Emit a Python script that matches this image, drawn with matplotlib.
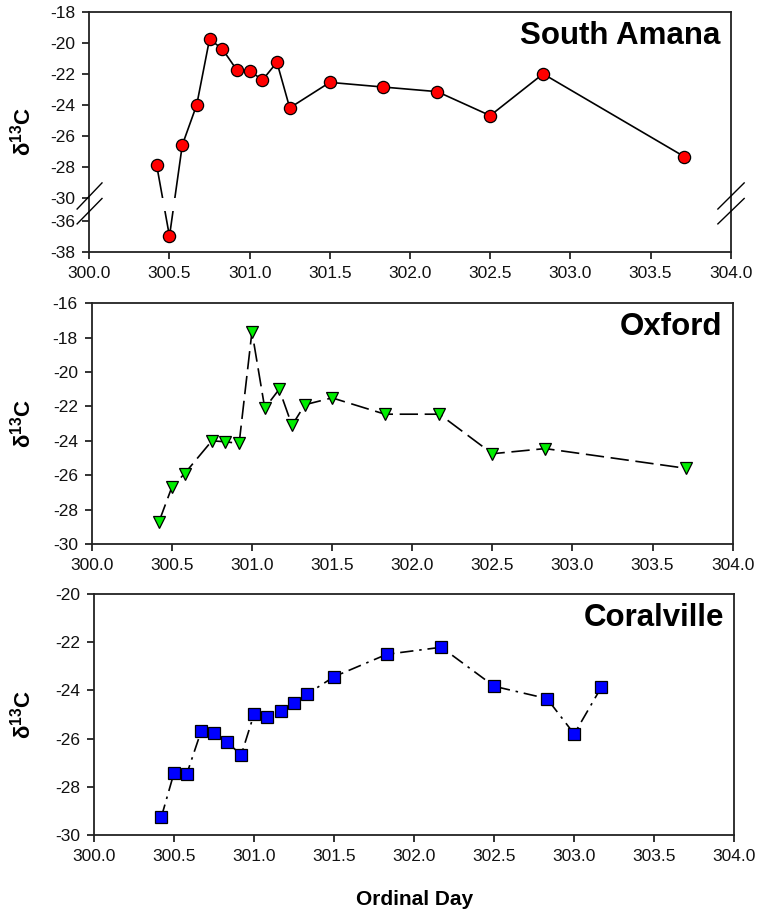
import numpy as np
import matplotlib
matplotlib.use('Agg')
import matplotlib.pyplot as plt
from matplotlib.ticker import FixedLocator, FormatStrFormatter

plt.rcParams['font.family'] = ['Liberation Sans', 'DejaVu Sans']
plt.rcParams['mathtext.fontset'] = 'custom'
plt.rcParams['mathtext.rm'] = 'Liberation Sans'
plt.rcParams['mathtext.bf'] = 'Liberation Sans:bold'
plt.rcParams['mathtext.it'] = 'Liberation Sans:italic'

# ---------------- data ----------------
sa_day = [300.42, 300.50, 300.58, 300.67, 300.75, 300.83, 300.92, 301.00, 301.08,
          301.17, 301.25, 301.50, 301.83, 302.17, 302.50, 302.83, 303.71]
sa_d13c = [-27.9, -37.0, -26.6, -24.0, -19.75, -20.4, -21.75, -21.8, -22.4,
           -21.25, -24.2, -22.55, -22.85, -23.15, -24.7, -22.0, -27.35]

ox_day = [300.42, 300.50, 300.58, 300.75, 300.83, 300.92, 301.00, 301.08, 301.17,
          301.25, 301.33, 301.50, 301.83, 302.17, 302.50, 302.83, 303.71]
ox_d13c = [-28.7, -26.7, -25.9, -24.0, -24.05, -24.15, -17.65, -22.1, -21.0,
           -23.1, -21.9, -21.5, -22.45, -22.45, -24.75, -24.45, -25.6]

co_day = [300.42, 300.50, 300.58, 300.67, 300.75, 300.83, 300.92, 301.00, 301.08,
          301.17, 301.25, 301.33, 301.50, 301.83, 302.17, 302.50, 302.83, 303.00, 303.17]
co_d13c = [-29.27, -27.42, -27.46, -25.68, -25.76, -26.15, -26.67, -24.98, -25.1,
           -24.84, -24.52, -24.16, -23.43, -22.5, -22.21, -23.83, -24.34, -25.81, -23.86]

sa_yticks = [-38, -36, -30, -28, -26, -24, -22, -20, -18]
ox_yticks = [-30, -28, -26, -24, -22, -20, -18, -16]
co_yticks = [-30, -28, -26, -24, -22, -20]
xticks = [300.0, 300.5, 301.0, 301.5, 302.0, 302.5, 303.0, 303.5, 304.0]

titles = ['South Amana', 'Oxford', 'Coralville']

# ---------------- figure ----------------
W, H = 765, 913
fig = plt.figure(figsize=(W / 100, H / 100), dpi=100)


def add_axes(l, r, t, b):
    return fig.add_axes([l / W, 1 - b / H, (r - l) / W, (b - t) / H])


ax1 = add_axes(89.3, 730.7, 12, 251.7)
ax2 = add_axes(91.7, 732.7, 303.3, 544)
ax3 = add_axes(94, 734.3, 594, 835)


# broken-axis scale for the top panel
def fwd(y):
    y = np.asarray(y, dtype=float)
    return np.where(y >= -30, y,
                    np.where(y >= -36, -30 + (y + 30) * 0.25, -31.5 + (y + 36)))


def inv(v):
    v = np.asarray(v, dtype=float)
    return np.where(v >= -30, v,
                    np.where(v >= -31.5, -30 + (v + 30) / 0.25, v - 4.5))


ax1.set_yscale('function', functions=(fwd, inv))


def style(ax, yticks, ylim, title):
    ax.set_xlim(300, 304)
    ax.set_ylim(*ylim)
    ax.xaxis.set_major_locator(FixedLocator(xticks))
    ax.xaxis.set_major_formatter(FormatStrFormatter('%.1f'))
    ax.yaxis.set_major_locator(FixedLocator(yticks))
    ax.yaxis.set_major_formatter(FormatStrFormatter('%g'))
    ax.yaxis.set_minor_locator(FixedLocator([]))
    ax.tick_params(direction='out', length=5, width=1.2, labelsize=12.5,
                   colors='#111111', top=False, right=False, pad=5)
    for s in ax.spines.values():
        s.set_linewidth(1.3)
        s.set_color('#222222')
    ax.text(0.984, 0.868, title, transform=ax.transAxes, ha='right', va='baseline',
            fontsize=22.5, fontweight='bold', color='black')


# South Amana
ax1.plot(sa_day, sa_d13c, color='black', lw=1.2, zorder=2)
ax1.plot(sa_day, sa_d13c, ls='none', marker='o', ms=8.8, mfc='#ff0000',
         mec='black', mew=0.9, zorder=3)
ax1.axhspan(-33.4, -30, color='white', lw=0, zorder=2.2)
style(ax1, sa_yticks, (-38, -18), titles[0])
for xs in ([-0.019, 0.0198], [0.980, 1.021]):
    ax1.plot(xs, [0.178, 0.287], transform=ax1.transAxes, color='black', lw=1.0,
             clip_on=False, zorder=5)
    ax1.plot(xs, [0.116, 0.222], transform=ax1.transAxes, color='black', lw=1.0,
             clip_on=False, zorder=5)

# Oxford
ax2.plot(ox_day, ox_d13c, color='black', lw=1.2, zorder=2, dashes=(11, 4))
ax2.plot(ox_day, ox_d13c, ls='none', marker='v', ms=8.4, mfc='#00ee00',
         mec='black', mew=0.9, zorder=3)
style(ax2, ox_yticks, (-30, -16), titles[1])

# Coralville
ax3.plot(co_day, co_d13c, color='black', lw=1.2, zorder=2, dashes=(8, 3.5, 1.5, 3.5))
ax3.plot(co_day, co_d13c, ls='none', marker='s', ms=8.2, mfc='#0000ff',
         mec='black', mew=0.9, zorder=3)
style(ax3, co_yticks, (-30, -20), titles[2])

# y labels
for ax in (ax1, ax2, ax3):
    pos = ax.get_position()
    fig.text(23 / W, pos.y0 + pos.height / 2, r'δ$^{\mathbf{13}}$C', rotation=90,
             ha='center', va='center', fontsize=16, fontweight='bold')

fig.text(414.5 / W, 1 - 899 / H, 'Ordinal Day', ha='center', va='center',
         fontsize=15, fontweight='bold')

fig.savefig('out.png', dpi=100, facecolor='white')
